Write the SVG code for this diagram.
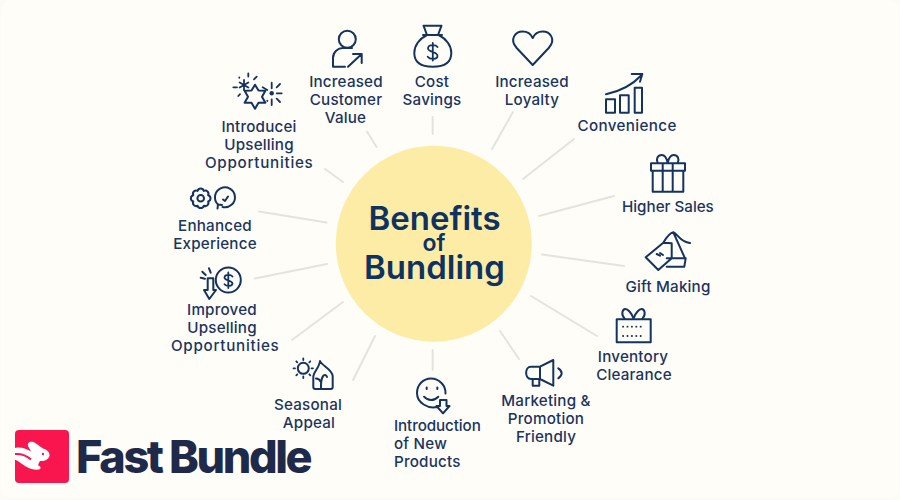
<svg xmlns="http://www.w3.org/2000/svg" width="900" height="500" viewBox="0 0 900 500">
<style>
text{font-family:Inter,"Liberation Sans",sans-serif;fill:#1b3460;font-size:15.2px;font-weight:500;text-anchor:middle;letter-spacing:.2px}
.t{fill:#0f3361;font-weight:600;font-size:33px;letter-spacing:0}
.i{fill:none;stroke:#14335f;stroke-width:2;stroke-linecap:round;stroke-linejoin:round}
.c line{stroke:#e4e4de;stroke-width:2;stroke-linecap:round}
</style>
<rect width="900" height="500" fill="#fcfbf5"/>
<rect x="1" y="0" width="898" height="498" rx="10" fill="#fefdf7"/>
<g id="connectors" class="c">
<line x1="432.700" y1="117" x2="432.700" y2="134"/>
<line x1="367" y1="131.500" x2="376.500" y2="147"/>
<line x1="325" y1="169" x2="343" y2="182"/>
<line x1="259" y1="211.500" x2="326.500" y2="222.500"/>
<line x1="255" y1="278.500" x2="327" y2="264"/>
<line x1="292" y1="340" x2="343" y2="302"/>
<line x1="353" y1="380" x2="375" y2="336"/>
<line x1="432.700" y1="350" x2="432.700" y2="370"/>
<line x1="500" y1="331" x2="519" y2="359"/>
<line x1="531" y1="296" x2="597" y2="336"/>
<line x1="542" y1="254.500" x2="624" y2="266"/>
<line x1="539" y1="216" x2="614" y2="196"/>
<line x1="523" y1="179" x2="574" y2="139"/>
<line x1="492" y1="149" x2="513" y2="112"/>
</g>
<g id="center"><circle cx="433.800" cy="243.700" r="98" fill="#fdeca6"/>
<text class="t" x="434.500" y="229.500">Benefits</text>
<text class="t" x="434" y="250.500" style="font-size:23px">of</text>
<text class="t" x="434.500" y="278.500">Bundling</text></g>
<g id="n-customer-value"><circle class="i" cx="347.300" cy="39.300" r="8.500"/><path class="i" d="M345 66.700H333V58c0-6 5-10 10-10h9M348 66.700L361.700 54M353 54h8.700v9"/>
<text x="346" y="87">Increased</text><text x="346" y="105">Customer</text><text x="345.500" y="122.500">Value</text></g>
<g id="n-cost"><path class="i" d="M423.500 25.700h18l-3.500 9.300h-11zM423 35h19M427 35c-8 4-12.700 11-12.700 18 0 9 6 13.700 18.500 13.700s18.500-4.700 18.500-13.700c0-7-4.700-14-12.700-18"/><path class="i" d="M437.500 47c-1.500-2.200-9-3-9.500 1.200s9.500 3.300 9.500 7.800c0 3.500-7.500 3.800-9.800.7M432.800 43v17.500" style="stroke-width:1.800"/>
<text x="432" y="87">Cost</text><text x="432" y="105">Savings</text></g>
<g id="n-loyalty"><path class="i" d="M532.700 65l-16-17c-8-9-1-16.500 6-16.500 5 0 8 2 10 6.500 2-4.500 5-6.500 10-6.500 7 0 14 7.500 6 16.500z"/>
<text x="532" y="87">Increased</text><text x="532" y="105">Loyalty</text></g>
<g id="n-convenience"><path class="i" d="M606 94.300c14-3 26-9 35.700-19.300M631.700 74h10.600l-2.300 7.700M606 99.300h9v13.400h-9zM620 95.300h8.700v17.400H620zM634.700 87.700h7.300v25h-7.300z"/>
<text x="627" y="131" textLength="99">Convenience</text></g>
<g id="n-sales"><path class="i" d="M651 163.300h34v7.400h-34zM652.700 170.700v21h30.600v-21M662.700 163.300v28.400M672.700 163.300v28.400M667.700 163c-1-5-3-8-6-8-4 0-6 4-4 8M667.700 163c1-5 3-8 6-8 4 0 6 4 4 8"/>
<text x="668" y="212" textLength="92">Higher Sales</text></g>
<g id="n-gift"><path class="i" d="M645.700 257.300l17.600-14.600 8.400.6v15l-13.400 11.700zM663.300 242.700c3-5 7-10 10-10.400 5 2 6 9 16.700 10.700M673.300 232.300l11.700 26M666.700 258.300h19l-1.400 8.400h-17.600M656.700 254l3.300 1.700M660 253l3 2"/>
<text x="668" y="292">Gift Making</text></g>
<g id="n-inventory"><rect class="i" x="616.700" y="319.300" width="34" height="23"/><path class="i" d="M633.500 318.500c-2-6-6-9.500-8-9.500-3.500 0-4.500 6-1 9.500M633.500 318.500c2-6 6-9.500 8-9.500 3.500 0 4.500 6 1 9.500"/>
<path class="i" d="M623 326.700h21.500M623 336h21.500" stroke-dasharray="0.200 4.200" style="stroke-width:1.800"/>
<text x="633" y="362">Inventory</text><text x="634" y="380">Clearance</text></g>
<g id="n-marketing"><path class="i" d="M553.300 360l-13.300 6.700h-9c-6.500 0-6.500 12.300 0 12.300h9l13.300 6.700zM540 366.700V379M532.700 379v6.700h6.600V380M558.300 368.300c4.500 3 4.500 7 0 10"/>
<text x="546" y="406">Marketing &amp;</text><text x="546" y="424">Promotion</text><text x="546" y="441.500">Friendly</text></g>
<g id="n-new-products"><path class="i" d="M437 407c-9 2-20-4-20-14 0-8 6-14.500 14-14.500s15 7 14.500 15M424 396.700c4 4.500 10 4.500 14.300 0M426.700 387.500v1.500M437.300 387.500v1.500M440 400h6.500v6h3l-6.500 7.300-6.500-7.300h3.500z"/>
<text x="394" y="431" textLength="87" style="text-anchor:start">Introduction</text><text x="394" y="449" style="text-anchor:start">of New</text><text x="394" y="466.500" style="text-anchor:start">Products</text></g>
<g id="n-seasonal"><circle class="i" cx="303.300" cy="368.300" r="5.500"/><path class="i" d="M303.300 358.500v1.500M303.300 376.500v1.500M293.500 368.300h1.500M311.500 368.300h1.500M296.300 361.300l1 1M309.300 374.300l1 1M310.300 361.300l-1 1M297.300 374.300l-1 1" style="stroke-width:1.800"/><path class="i" d="M320 361C322 366 332 369 332.700 376V387q0 2-2 2H315.300q-2 0-2-2V377c0-5 6-9 6.700-16zM321 389c0-6-.5-10 2.500-13.500M321 382c-1-2-3-3.500-5-3.500M323.500 375.500c1.500-1 3-.5 3.500 1.500"/>
<text x="308" y="410">Seasonal</text><text x="309" y="428">Appeal</text></g>
<g id="n-improved"><circle class="i" cx="228.300" cy="280" r="12.500"/><path class="i" d="M232.500 276.500c-1.500-2-7.500-2.500-8 .8s8 3 8 6.200c0 3-6.300 3.200-8 .8M228.300 272.500v15.500" style="stroke-width:1.800"/><path class="i" d="M207.700 278.300h5.600V290H216l-6.700 9-5.300-9h3.700zM200.700 277.700l4.300 1M202.300 271.700l3.400 3.300M209 268.300l1.700 4.400"/>
<text x="222" y="315">Improved</text><text x="222" y="333">Upselling</text><text x="225" y="351" textLength="108">Opportunities</text></g>
<g id="n-enhanced"><circle class="i" cx="200.700" cy="198.300" r="3.300"/><path class="i" d="M208.100 201.400A3.200 3.200 0 0 1 203.800 205.700A3.200 3.200 0 0 1 197.600 205.700A3.200 3.200 0 0 1 193.300 201.400A3.200 3.200 0 0 1 193.300 195.200A3.200 3.200 0 0 1 197.600 190.900A3.200 3.200 0 0 1 203.800 190.900A3.200 3.200 0 0 1 208.100 195.200A3.200 3.200 0 0 1 208.100 201.400z"/><path class="i" d="M218 204.500A10 10 0 1 1 222.500 207M217.500 208.500l.5-4 4 .5M223 199.500l2 1.500 3-4.500"/>
<text x="215" y="231">Enhanced</text><text x="215" y="249">Experience</text></g>
<g id="n-upselling"><path class="i" d="M255 84.700L258.500 90.600 265.400 90.700 262 96.700 265.400 102.700 258.500 102.800 255 108.700 251.500 102.800 244.600 102.700 248 96.700 244.600 90.700 251.500 90.600z"/><path class="i" d="M244 80v10M239.700 82.500l8.600 5M248.300 82.500l-8.600 5M248.300 73.300v3.300M233.300 87.300h3.700M239.300 77.500v.3M254 79.300l2.700-2.600M238.300 96l1.700-1.800M271.700 82.700v5.600M271.700 99.300v5.700M276.700 93.300h5M276.700 87.300l3.300-3.300M276.700 98.700l3.300 3.300M262.700 87.300l4.600 2.700M267.300 100.700v.3" style="stroke-width:1.800"/><circle cx="271.700" cy="93.300" r="2.200" fill="#14335f"/>
<text x="259" y="132">Introducei</text><text x="259" y="150">Upselling</text><text x="259" y="168" textLength="108">Opportunities</text></g>
<g id="logo"><rect x="15" y="430" width="54" height="53" rx="4" fill="#f9164f"/>
<path d="M15 448c6-1.500 11 .5 16 3.500L28 446c-1-5 5-5 8-2.500l7 5c4 1 7 4 6.500 7.500-1 3.500-5 5.500-9.500 5-1.500 2-2 3.500-1.500 5 1.500 0 2 .5 2 2.500-1 1.500-5 1.500-9 .5-6-2-9-5-13-7.500-1.500-1-3-2-4.500-2z" fill="#fff"/>
<path d="M15 454c6-.5 12 2 16 5.500" fill="none" stroke="#f9164f" stroke-width="2"/><circle cx="43" cy="454" r="1.200" fill="#f9164f"/>
<text x="76" y="473" style="font-size:45px;font-weight:800;fill:#1f2a4b;letter-spacing:-2.400px;text-anchor:start">Fast Bundle</text></g>
</svg>
